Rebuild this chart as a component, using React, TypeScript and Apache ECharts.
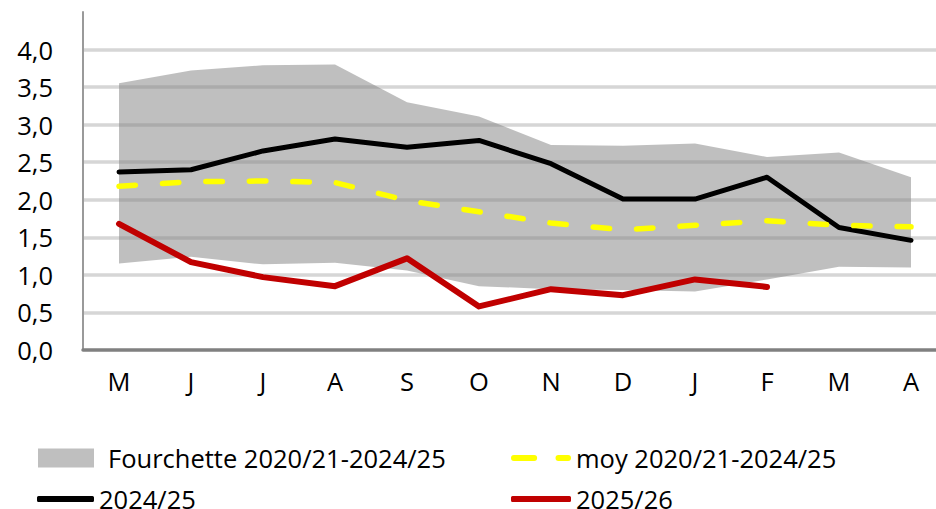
import React, { useEffect, useRef } from "react";
import * as echarts from "echarts";

const months = ["M", "J", "J", "A", "S", "O", "N", "D", "J", "F", "M", "A"];
const rangeLow = [1.15, 1.24, 1.14, 1.16, 1.06, 0.85, 0.81, 0.8, 0.78, 0.94, 1.11, 1.1];
const rangeHigh = [3.55, 3.72, 3.79, 3.8, 3.3, 3.11, 2.73, 2.72, 2.75, 2.57, 2.63, 2.3];
const avg = [2.18, 2.24, 2.25, 2.23, 1.99, 1.84, 1.69, 1.6, 1.66, 1.72, 1.66, 1.64];
const s2024 = [2.37, 2.4, 2.65, 2.81, 2.7, 2.79, 2.48, 2.01, 2.01, 2.3, 1.63, 1.46];
const s2025 = [1.68, 1.17, 0.97, 0.85, 1.22, 0.58, 0.81, 0.73, 0.94, 0.84, null, null];
const yTicks = { min: 0, max: 4.5, interval: 0.5 };

const NAME_RANGE = "Fourchette 2020/21-2024/25";
const NAME_AVG = "moy 2020/21-2024/25";
const NAME_24 = "2024/25";
const NAME_25 = "2025/26";

const FONT = "Open Sans";
const FS = 25.5;

export default function App() {
  const ref = useRef<HTMLDivElement>(null);
  useEffect(() => {
    if (!ref.current) return;
    const chart = echarts.init(ref.current, null, { renderer: "svg" });
    const legendText = { fontFamily: FONT, fontSize: FS, color: "#000", lineHeight: 26 };
    const legendText2 = { fontFamily: FONT, fontSize: FS, color: "#000", lineHeight: 22 };
    const legendBase = { padding: 0, symbolKeepAspect: false, selectedMode: false };
    chart.setOption({
      animation: false,
      backgroundColor: "#fff",
      grid: {
        left: 83,
        width: 864,
        top: 12,
        bottom: 159,
        containLabel: false,
        outerBoundsMode: "none",
      },
      xAxis: {
        type: "category",
        data: months,
        boundaryGap: true,
        axisLine: { show: true, lineStyle: { color: "#808080", width: 3.5 } },
        axisTick: { show: false },
        axisLabel: { fontFamily: FONT, fontSize: FS, color: "#000", margin: 18, interval: 0 },
        splitLine: { show: false },
      },
      yAxis: {
        type: "value",
        min: yTicks.min,
        max: yTicks.max,
        interval: yTicks.interval,
        axisLine: { show: true, lineStyle: { color: "#9a9a9a", width: 2 } },
        axisTick: { show: false },
        axisLabel: {
          fontFamily: FONT,
          fontSize: FS,
          color: "#000",
          margin: 30,
          showMaxLabel: false,
          formatter: (v: number) => v.toFixed(1).replace(".", ","),
        },
        splitLine: {
          show: true,
          showMinLine: false,
          showMaxLine: false,
          lineStyle: { color: "#d6d6d6", width: 3.5 },
        },
      },
      legend: [
        {
          ...legendBase,
          data: [NAME_RANGE],
          left: 38,
          top: 445,
          icon: "rect",
          itemWidth: 56,
          itemHeight: 19,
          itemStyle: { color: "#bfbfbf", borderWidth: 0 },
          textStyle: { ...legendText, padding: [0, 0, 0, 9] },
        },
        {
          ...legendBase,
          data: [NAME_AVG],
          left: 511,
          top: 445,
          icon: "path://M3,0H24A3,3,0,0,1,24,6H3A3,3,0,0,1,3,0Z M49,0H59A3,3,0,0,1,59,6H49A3,3,0,0,1,49,0Z",
          itemWidth: 60,
          itemHeight: 6,
          itemStyle: { color: "#ffff00", borderWidth: 0 },
          lineStyle: { width: 0 },
          textStyle: legendText,
        },
        {
          ...legendBase,
          data: [NAME_24],
          left: 37,
          top: 486,
          icon: "roundRect",
          itemWidth: 57,
          itemHeight: 6,
          itemStyle: { color: "#000000", borderWidth: 0 },
          lineStyle: { width: 0 },
          textStyle: legendText2,
        },
        {
          ...legendBase,
          data: [NAME_25],
          left: 511,
          top: 486,
          icon: "roundRect",
          itemWidth: 60,
          itemHeight: 6,
          itemStyle: { color: "#c00000", borderWidth: 0 },
          lineStyle: { width: 0 },
          textStyle: legendText2,
        },
      ],
      series: [
        {
          name: "rangeBase",
          type: "line",
          stack: "band",
          data: rangeLow,
          symbol: "none",
          lineStyle: { width: 0, opacity: 0 },
          silent: true,
          z: 1,
        },
        {
          name: NAME_RANGE,
          type: "line",
          stack: "band",
          data: rangeHigh.map((h, i) => +(h - rangeLow[i]).toFixed(3)),
          symbol: "none",
          lineStyle: { width: 0, opacity: 0 },
          itemStyle: { color: "#bfbfbf" },
          areaStyle: { color: "rgba(128,128,128,0.5)", opacity: 1 },
          silent: true,
          z: 1,
        },
        {
          name: NAME_24,
          type: "line",
          data: s2024,
          symbol: "none",
          itemStyle: { color: "#000000" },
          lineStyle: { color: "#000000", width: 5, cap: "round", join: "round" },
          z: 3,
        },
        {
          name: NAME_AVG,
          type: "line",
          data: avg,
          symbol: "none",
          itemStyle: { color: "#ffff00" },
          lineStyle: { color: "#ffff00", width: 5.5, type: [16.5, 27], cap: "round", join: "round" },
          z: 4,
        },
        {
          name: NAME_25,
          type: "line",
          data: s2025,
          symbol: "none",
          itemStyle: { color: "#c00000" },
          lineStyle: { color: "#c00000", width: 6, cap: "round", join: "round" },
          z: 5,
        },
      ],
    });
    return () => chart.dispose();
  }, []);
  return (
    <div
      ref={ref}
      style={{ position: "fixed", left: 0, top: 0, width: 936, height: 509, background: "#fff" }}
    />
  );
}
